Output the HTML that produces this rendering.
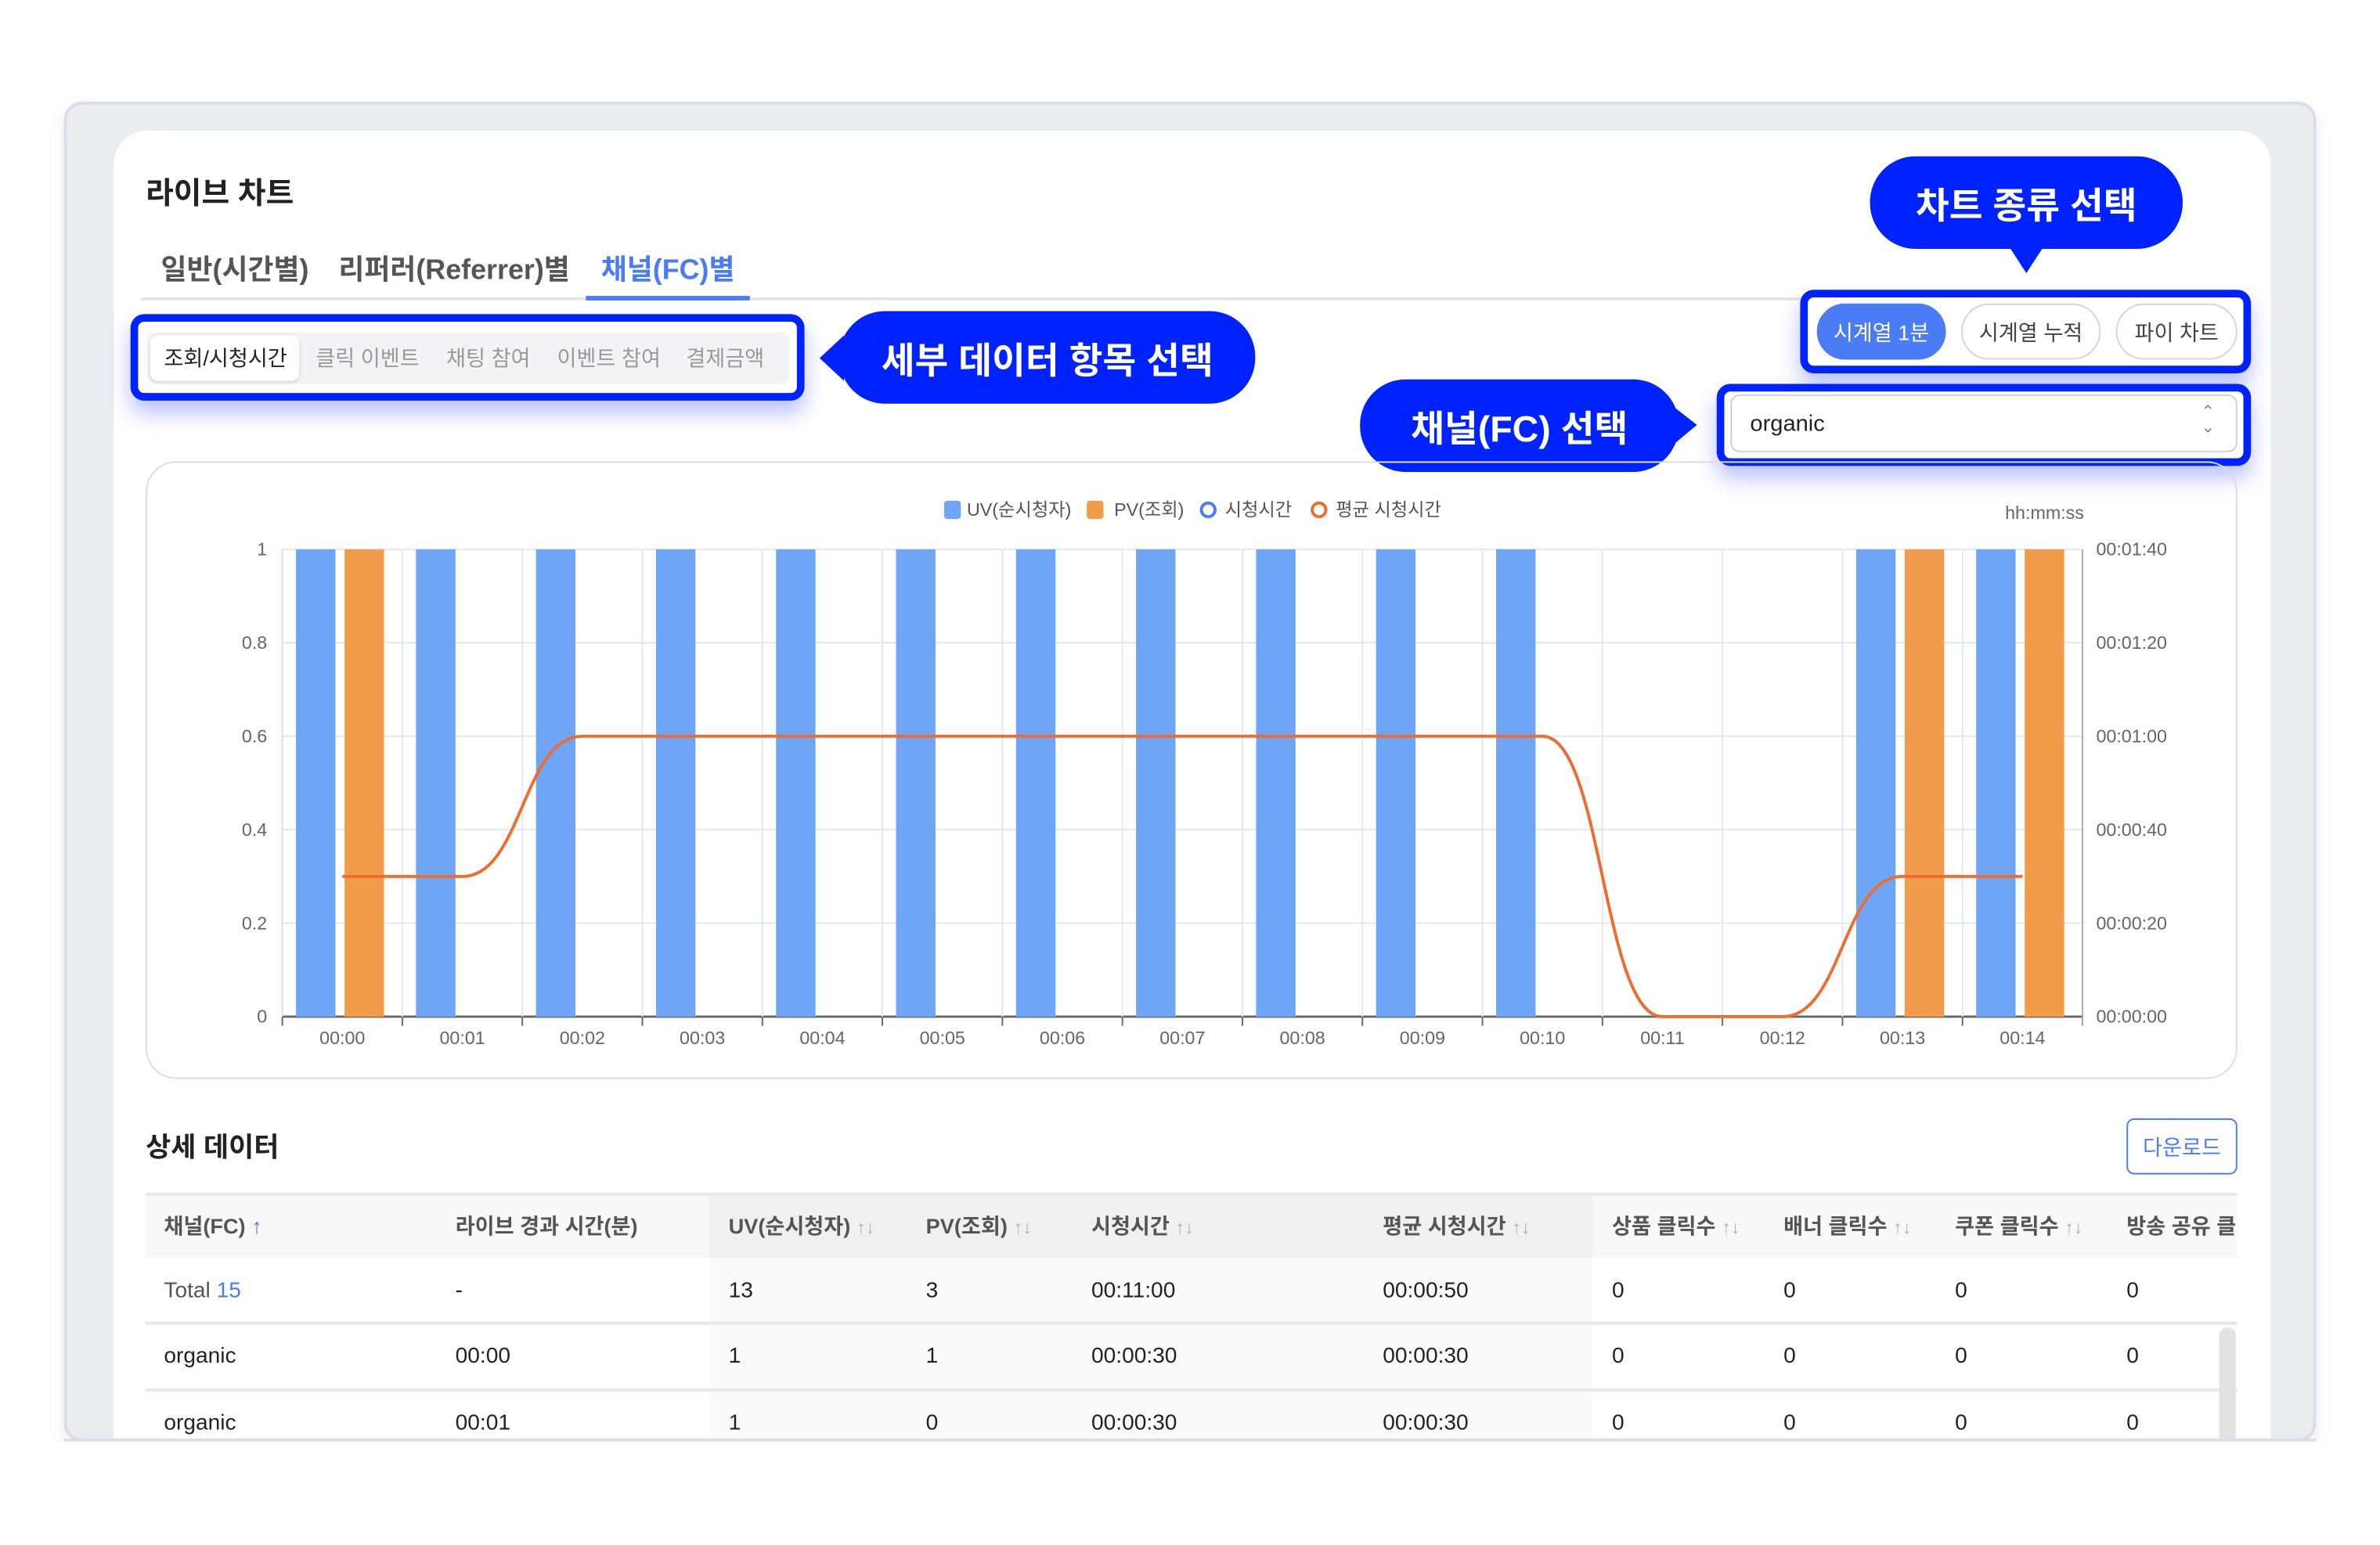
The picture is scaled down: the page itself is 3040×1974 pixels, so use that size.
<!DOCTYPE html>
<html><head><meta charset="utf-8">
<style>
html,body{margin:0;padding:0;background:#fff;width:3040px;height:1972px;overflow:hidden}
#wrap{position:absolute;left:0;top:0;width:1568px;height:1018px;transform:scale(1.93878);transform-origin:0 0;font-family:"Liberation Sans","Noto Sans CJK KR",sans-serif;color:#222}
.abs{position:absolute}
.frame{left:42px;top:67px;width:1484px;height:883px;background:#ebecf0;border:2px solid #dcdde8;border-radius:12px;box-sizing:border-box;overflow:hidden;box-shadow:0 4px 10px rgba(180,180,220,0.25)}
.blue-box{border:5px solid #0022ff;border-radius:9px;box-sizing:border-box;background:#fff;box-shadow:0 8px 14px rgba(0,34,255,0.28)}
.bubble{background:#0022ff;color:#fff;font-weight:bold;font-size:24px;display:flex;align-items:center;justify-content:center;border-radius:30px}
.seg{font-size:14px;color:#999;top:226px}
.btn{border:1.5px solid #d6d6d6;border-radius:19px;box-sizing:border-box;font-size:14px;display:flex;align-items:center;justify-content:center;color:#444;background:#fff}
.th{top:798px;font-size:14px;color:#555;font-weight:bold}
.td{font-size:14.5px;color:#222}
.sort{color:#b0b0b0;font-weight:normal;font-size:12px}
.tab{font-size:18.5px;font-weight:bold;top:164px}
</style></head><body>
<div id="wrap">
<div class="abs frame"></div>
<div class="abs" style="left:75px;top:86px;width:1421px;height:863px;background:#fff;border-radius:22px 22px 0 0"></div>

<div class="abs" style="left:96px;top:111px;font-size:20px;font-weight:bold">라이브 차트</div>

<div class="abs tab" style="left:106px;color:#555">일반(시간별)</div>
<div class="abs tab" style="left:223px;color:#555">리퍼러(Referrer)별</div>
<div class="abs tab" style="left:396px;color:#4a7cf6">채널(FC)별</div>
<div class="abs" style="left:93px;top:196px;width:1100px;height:2px;background:#e6e6e6"></div>
<div class="abs" style="left:386px;top:195px;width:108px;height:3px;background:#4a7cf6"></div>

<div class="abs blue-box" style="left:86px;top:207px;width:444px;height:57px"></div>
<div class="abs" style="left:97px;top:219px;width:423px;height:34px;background:#f3f3f5;border-radius:6px"></div>
<div class="abs" style="left:99px;top:221px;width:98px;height:30px;background:#fff;border-radius:5px;box-shadow:0 1px 3px rgba(0,0,0,0.12)"></div>
<div class="abs seg" style="left:108px;color:#222">조회/시청시간</div>
<div class="abs seg" style="left:208px">클릭 이벤트</div>
<div class="abs seg" style="left:294px">채팅 참여</div>
<div class="abs seg" style="left:367px">이벤트 참여</div>
<div class="abs seg" style="left:452px">결제금액</div>

<svg class="abs" style="left:0;top:0" width="1568" height="1018">
<polygon points="556,221 540,236 556,251" fill="#0022ff"/>
<polygon points="1322,160 1348,160 1335,180" fill="#0022ff"/>
<polygon points="1100,266 1118,280 1100,295" fill="#0022ff"/>
</svg>
<div class="abs bubble" style="left:553px;top:205px;width:274px;height:61px">세부 데이터 항목 선택</div>
<div class="abs bubble" style="left:1232px;top:103px;width:206px;height:61px">차트 종류 선택</div>
<div class="abs bubble" style="left:896px;top:250px;width:210px;height:61px">채널(FC) 선택</div>

<div class="abs blue-box" style="left:1186px;top:191px;width:297px;height:55px"></div>
<div class="abs btn" style="left:1197px;top:200px;width:85px;height:37px;background:#4a7cf6;border-color:#4a7cf6;color:#fff">시계열 1분</div>
<div class="abs btn" style="left:1292px;top:200px;width:92px;height:37px">시계열 누적</div>
<div class="abs btn" style="left:1394px;top:200px;width:80px;height:37px">파이 차트</div>

<div class="abs blue-box" style="left:1131px;top:253px;width:352px;height:54px"></div>
<div class="abs" style="left:1140px;top:260px;width:334px;height:38px;border:1.5px solid #d0d0d0;border-radius:6px;box-sizing:border-box;background:#fff">
<span class="abs" style="left:12px;top:10px;font-size:15px;color:#222">organic</span>
<span class="abs" style="left:309px;top:6px;font-size:11px;color:#888;line-height:10px;text-align:center">⌃<br>⌄</span>
</div>

<div class="abs" style="left:96px;top:304px;width:1378px;height:407px;border:1.5px solid #dcdcdc;border-radius:20px;box-sizing:border-box"></div>
<svg id="chart" class="abs" style="left:0;top:0" width="1568" height="1018"></svg>

<div class="abs" style="left:96px;top:742px;font-size:18px;font-weight:bold">상세 데이터</div>
<div class="abs" style="left:1401px;top:737px;width:73px;height:37px;border:1.5px solid #4a7cf6;border-radius:5px;box-sizing:border-box;color:#4a7cf6;font-size:14px;display:flex;align-items:center;justify-content:center">다운로드</div>

<div class="abs" style="left:96px;top:786px;width:1378px;height:2px;background:#e8e8e8"></div>
<div class="abs" style="left:96px;top:788px;width:1378px;height:41px;background:#f8f8f8"></div>
<div class="abs" style="left:467px;top:788px;width:582px;height:41px;background:#f0f0f0"></div>
<div class="abs" style="left:467px;top:829px;width:582px;height:121px;background:#fafafa"></div>
<div class="abs" style="left:96px;top:871px;width:1378px;height:1.5px;background:#e8e8e8"></div>
<div class="abs" style="left:96px;top:915px;width:1378px;height:1.5px;background:#e8e8e8"></div>
<div class="abs" style="left:1462px;top:875px;width:11px;height:80px;background:#e2e2e2;border-radius:5px"></div>

<div class="abs th" style="left:108px">채널(FC) <span style="color:#4a7cf6">↑</span></div>
<div class="abs th" style="left:300px">라이브 경과 시간(분)</div>
<div class="abs th" style="left:480px">UV(순시청자) <span class="sort">↑↓</span></div>
<div class="abs th" style="left:610px">PV(조회) <span class="sort">↑↓</span></div>
<div class="abs th" style="left:719px">시청시간 <span class="sort">↑↓</span></div>
<div class="abs th" style="left:911px">평균 시청시간 <span class="sort">↑↓</span></div>
<div class="abs th" style="left:1062px">상품 클릭수 <span class="sort">↑↓</span></div>
<div class="abs th" style="left:1175px">배너 클릭수 <span class="sort">↑↓</span></div>
<div class="abs th" style="left:1288px">쿠폰 클릭수 <span class="sort">↑↓</span></div>
<div class="abs th" style="left:1401px;width:73px;overflow:hidden;white-space:nowrap">방송 공유 클릭</div>

<div id="rows"></div>
<div class="abs" style="left:0;top:950px;width:1568px;height:68px;background:#fff"></div>
<div class="abs" style="left:42px;top:948px;width:1484px;height:2px;background:#dcdde8"></div>
</div>

<script>
const categories=["00:00","00:01","00:02","00:03","00:04","00:05","00:06","00:07","00:08","00:09","00:10","00:11","00:12","00:13","00:14"];
const uvValues=[1,1,1,1,1,1,1,1,1,1,1,0,0,1,1];
const pvValues=[1,0,0,0,0,0,0,0,0,0,0,0,0,1,1];
const avgWatchSec=[30,30,60,60,60,60,60,60,60,60,60,0,0,30,30];
const leftTicks=[0,0.2,0.4,0.6,0.8,1];
const rightTicks=[0,20,40,60,80,100];
const rightTickLabels=["00:00:00","00:00:20","00:00:40","00:01:00","00:01:20","00:01:40"];
const legendLabels=["UV(순시청자)","PV(조회)","시청시간","평균 시청시간"];

const NS="http://www.w3.org/2000/svg";
const svg=document.getElementById('chart');
const X0=186,X1=1372,Y0=670,Y1=362;
const band=(X1-X0)/categories.length;
const yL=v=>Y0-(v/1)*(Y0-Y1);
const yR=v=>Y0-(v/100)*(Y0-Y1);
const bx=i=>X0+band*i;
function mk(tag,attrs,name){const e=document.createElementNS(NS,tag);for(const k in attrs)e.setAttribute(k,attrs[k]);


svg.appendChild(e);return e;}
const F='"Liberation Sans","Noto Sans CJK KR",sans-serif';
leftTicks.forEach((t,i)=>{
 mk('line',{x1:X0,x2:X1,y1:yL(t),y2:yL(t),stroke:i===0?'#666':'#e4e7f0','stroke-width':i===0?1.5:1},'h-gridline');
 const tx=mk('text',{x:176,y:yL(t)+4,'text-anchor':'end','font-size':12,fill:'#666','font-family':F},'left-tick-label');tx.textContent=t;
});
rightTicks.forEach((t,i)=>{const tx=mk('text',{x:1381,y:yR(t)+4,'font-size':12,fill:'#666','font-family':F},'right-tick-label');tx.textContent=rightTickLabels[i];});
for(let i=0;i<=categories.length;i++){
 if(i>0&&i<categories.length)mk('line',{x1:bx(i),x2:bx(i),y1:Y1,y2:Y0,stroke:'#e4e7f0','stroke-width':1},'v-gridline');
 mk('line',{x1:bx(i),x2:bx(i),y1:Y0,y2:Y0+6,stroke:'#666','stroke-width':1},'x-tick');
}
mk('line',{x1:X0,x2:X0,y1:Y1,y2:Y0,stroke:'#ddd','stroke-width':1},'left-axis-line');
mk('line',{x1:X1,x2:X1,y1:Y1,y2:Y0+6,stroke:'#aaa','stroke-width':1},'right-axis-line');
categories.forEach((c,i)=>{const tx=mk('text',{x:bx(i)+band/2,y:Y0+18,'text-anchor':'middle','font-size':12,fill:'#666','font-family':F},'x-tick-label');tx.textContent=c;});
categories.forEach((c,i)=>{
 if(uvValues[i]>0)mk('rect',{x:bx(i)+9,y:yL(uvValues[i]),width:26,height:Y0-yL(uvValues[i]),fill:'#6fa5f6'},'uv-bar');
 if(pvValues[i]>0)mk('rect',{x:bx(i)+41,y:yL(pvValues[i]),width:26,height:Y0-yL(pvValues[i]),fill:'#f19c4a'},'pv-bar');
});
let d='';
avgWatchSec.forEach((v,i)=>{const x=bx(i)+band/2,y=yR(v);
 if(i===0)d+=`M${x},${y}`;else{const px=bx(i-1)+band/2,py=yR(avgWatchSec[i-1]),mx=(px+x)/2;d+=` C${mx},${py} ${mx},${y} ${x},${y}`;}});
mk('path',{d:d,fill:'none',stroke:'#ee6c2d','stroke-width':2},'avg-watch-time-line');
mk('rect',{x:622,y:330,width:11,height:12,rx:2,fill:'#6fa5f6'},'legend-uv-swatch');
mk('rect',{x:716,y:330,width:11,height:12,rx:2,fill:'#f19c4a'},'legend-pv-swatch');
mk('circle',{cx:796,cy:336,r:4.5,fill:'none',stroke:'#4a7cf6','stroke-width':2},'legend-watch-swatch');
mk('circle',{cx:869,cy:336,r:4.5,fill:'none',stroke:'#ee6c2d','stroke-width':2},'legend-avg-swatch');
[[637,0],[734,1],[807,2],[880,3]].forEach(([x,k])=>{const tx=mk('text',{x:x,y:340,'font-size':12,fill:'#555','font-family':F},'legend-entry');tx.textContent=legendLabels[k];});
const hh=mk('text',{x:1321,y:342,'font-size':12,fill:'#666','font-family':F},'right-axis-unit');hh.textContent='hh:mm:ss';

const cols=[108,300,480,610,719,911,1062,1175,1288,1401];
const rows=[[null,'-','13','3','00:11:00','00:00:50','0','0','0','0'],['organic','00:00','1','1','00:00:30','00:00:30','0','0','0','0'],['organic','00:01','1','0','00:00:30','00:00:30','0','0','0','0']];
const rowY=[843,886,930];
const wrap=document.getElementById('wrap');
rows.forEach((r,ri)=>{r.forEach((v,ci)=>{const e=document.createElement('div');e.className='abs td';e.style.left=cols[ci]+'px';e.style.top=rowY[ri]+'px';
 if(v===null){e.innerHTML='<span style="color:#555">Total</span> <span style="color:#4a7cf6">15</span>';}else e.textContent=v;
 
 
 wrap.insertBefore(e,document.getElementById('rows'));});});
</script>
</body></html>
